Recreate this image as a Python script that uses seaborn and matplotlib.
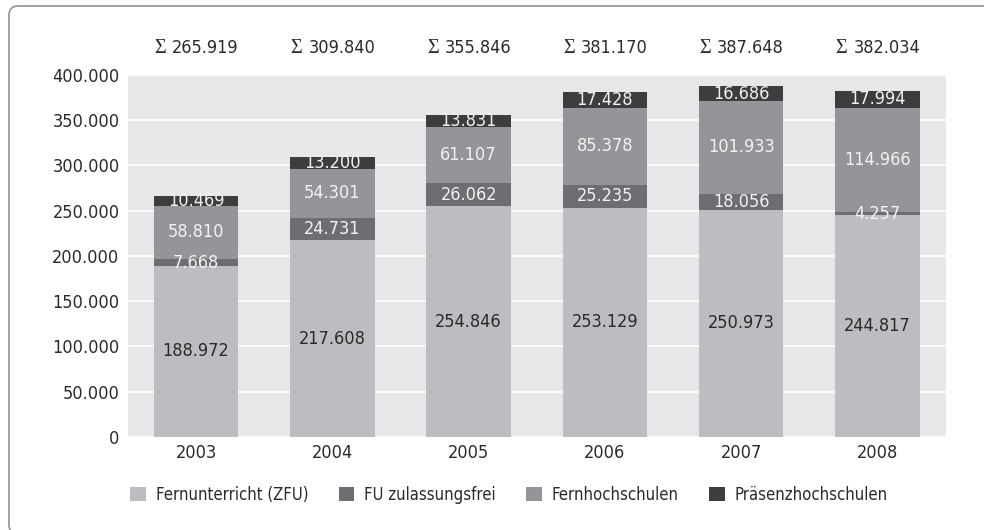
import numpy as np
import pandas as pd
import seaborn as sns
import matplotlib.pyplot as plt
from matplotlib.patches import FancyBboxPatch, Patch
from matplotlib.ticker import FuncFormatter
import matplotlib.transforms as mtransforms

years = ['2003', '2004', '2005', '2006', '2007', '2008']
zfu = [188972, 217608, 254846, 253129, 250973, 244817]
fu_frei = [7668, 24731, 26062, 25235, 18056, 4257]
fernhoch = [58810, 54301, 61107, 85378, 101933, 114966]
praesenz = [10469, 13200, 13831, 17428, 16686, 17994]
totals = [265919, 309840, 355846, 381170, 387648, 382034]

series_names = ['Fernunterricht (ZFU)', 'FU zulassungsfrei', 'Fernhochschulen', 'Präsenzhochschulen']
series_colors = ['#bcbdc0', '#6d6e71', '#939598', '#3d3d3f']
label_colors = ['#2a2a2a', '#f2f2f2', '#f2f2f2', '#f2f2f2']


def de_fmt(v):
    return f'{int(v):,}'.replace(',', '.')


def main():
    sns.set_theme(style='white')
    plt.rcParams['font.family'] = ['DejaVu Sans']
    plt.rcParams['font.stretch'] = 'condensed'
    plt.rcParams['font.size'] = 13

    df = pd.DataFrame({'Jahr': years, series_names[0]: zfu, series_names[1]: fu_frei,
                       series_names[2]: fernhoch, series_names[3]: praesenz})

    fig = plt.figure(figsize=(9.84, 5.30), dpi=100)
    ax = fig.add_axes([0.130, 0.1755, 0.831, 0.683])
    ax.set_facecolor('#e6e7e8')

    bottom = np.zeros(len(years))
    for name, color, lcol in zip(series_names, series_colors, label_colors):
        vals = df[name].to_numpy()
        sns.barplot(x=df['Jahr'], y=vals, bottom=bottom, color=color, width=0.62,
                    ax=ax, saturation=1, linewidth=0, zorder=2)
        for i, v in enumerate(vals):
            ax.text(i, bottom[i] + v / 2, de_fmt(v), ha='center', va='center',
                    color=lcol, fontsize=13, zorder=3)
        bottom += vals

    ax.set_ylim(0, 400000)
    ax.set_xlim(-0.5, 5.5)
    ax.set_yticks(np.arange(0, 400001, 50000))
    ax.yaxis.set_major_formatter(FuncFormatter(lambda v, p: de_fmt(v)))
    ax.grid(axis='y', color='white', linewidth=1.2)
    ax.set_axisbelow(True)
    ax.tick_params(axis='both', length=0, labelsize=13, colors='#2a2a2a')
    ax.tick_params(axis='y', pad=6)
    ax.tick_params(axis='x', pad=5)
    ax.set_xlabel('')
    ax.set_ylabel('')
    for s in ax.spines.values():
        s.set_visible(False)

    # sum labels above the bars: serif sigma + number
    trans = mtransforms.blended_transform_factory(ax.transData, ax.transAxes)
    for i, t in enumerate(totals):
        ax.annotate('\u03a3', xy=(i, 1.075), xycoords=trans, xytext=(-30, -1),
                    textcoords='offset pixels', ha='right', va='center',
                    fontsize=14.5, color='#2a2a2a', family=['Liberation Serif', 'DejaVu Serif'],
                    fontstretch='normal')
        ax.annotate(de_fmt(t), xy=(i, 1.075), xycoords=trans, xytext=(-24, 0),
                    textcoords='offset pixels', ha='left', va='center',
                    fontsize=13, color='#2a2a2a')

    handles = [Patch(facecolor=c, edgecolor='none') for c in series_colors]
    fig.legend(handles, series_names, loc='center left', bbox_to_anchor=(0.117, 0.066),
               ncol=4, frameon=False, handlelength=0.95, handleheight=0.95,
               handletextpad=0.6, columnspacing=1.8, fontsize=12,
               labelcolor='#2a2a2a')

    frame = FancyBboxPatch((9, -4), 1100, 528, boxstyle='round,pad=0,rounding_size=9',
                           transform=None, facecolor='none', edgecolor='#9a9a9a',
                           linewidth=1.3)
    fig.patches.append(frame)

    fig.savefig('out.png', dpi=100)
    plt.close(fig)


if __name__ == '__main__':
    main()
